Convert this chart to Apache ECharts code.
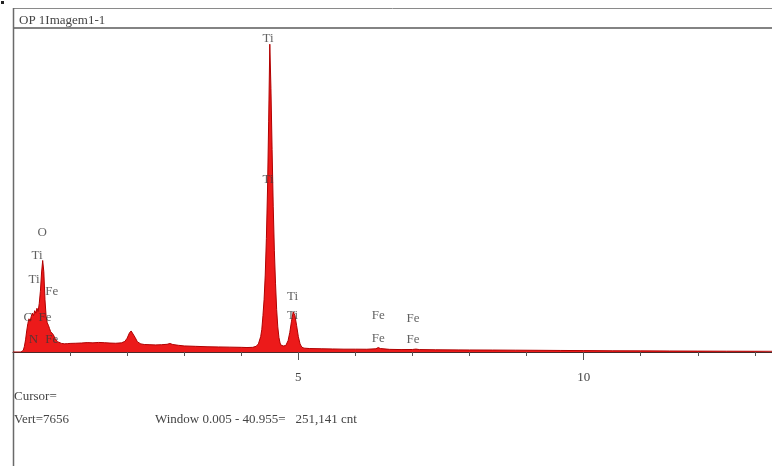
<!DOCTYPE html>
<html>
<head>
<meta charset="utf-8">
<script src="https://cdn.jsdelivr.net/npm/echarts@6/dist/echarts.min.js"></script>
<style>
  html, body { margin: 0; padding: 0; background: #ffffff; }
  #chart { width: 772px; height: 466px; }
</style>
</head>
<body>
<div id="chart"></div>
<script>
// EDS spectrum: energy (keV) and counts per channel
const energyKeV = [
  0.00, 0.14, 0.18, 0.20, 0.22, 0.24, 0.26, 0.28, 0.30, 0.32, 0.34, 0.36, 0.38, 0.40, 0.42, 0.44,
  0.46, 0.48, 0.50, 0.52, 0.54, 0.56, 0.58, 0.60, 0.62, 0.64, 0.66, 0.68, 0.70, 0.72, 0.74, 0.76,
  0.78, 0.80, 0.85, 0.90, 0.95, 1.00, 1.10, 1.20, 1.30, 1.40, 1.50, 1.60, 1.70, 1.80, 1.90, 1.96,
  2.00, 2.04, 2.07, 2.10, 2.14, 2.18, 2.24, 2.30, 2.40, 2.50, 2.60, 2.70, 2.75, 2.80, 2.90, 3.00,
  3.20, 3.40, 3.60, 3.80, 4.00, 4.10, 4.20, 4.26, 4.30, 4.34, 4.36, 4.38, 4.40, 4.42, 4.44, 4.46,
  4.48, 4.50, 4.52, 4.54, 4.56, 4.58, 4.60, 4.62, 4.64, 4.66, 4.68, 4.70, 4.74, 4.78, 4.82, 4.85,
  4.88, 4.91, 4.94, 4.97, 5.00, 5.03, 5.06, 5.10, 5.20, 5.40, 5.60, 5.80, 6.00, 6.20, 6.36, 6.40,
  6.44, 6.60, 6.80, 7.00, 7.06, 7.12, 7.40, 7.80, 8.00, 8.40, 8.80, 9.20, 9.60, 10.00, 10.50, 11.00,
  11.50, 12.00, 12.50, 13.00, 13.30
];
const counts = [
  0, 0, 40, 140, 300, 520, 700, 820, 760, 880, 960, 900, 1020, 960, 1080, 1000,
  1200, 1500, 1950, 2260, 1980, 1300, 880, 720, 660, 580, 500, 460, 440, 390, 330, 285,
  255, 235, 212, 202, 206, 212, 216, 222, 232, 226, 236, 230, 221, 216, 226, 262,
  340, 470, 520, 480, 360, 250, 200, 185, 180, 175, 180, 190, 210, 185, 165, 150,
  140, 130, 125, 120, 115, 110, 115, 140, 200, 380, 560, 900, 1300, 1900, 2800, 4000,
  5700, 7600, 6500, 5000, 3600, 2500, 1700, 1050, 620, 360, 220, 165, 150, 160, 280, 480,
  760, 990, 900, 650, 380, 200, 120, 95, 85, 80, 75, 70, 70, 68, 80, 110,
  85, 65, 60, 62, 72, 60, 55, 52, 50, 48, 45, 42, 38, 35, 30, 28,
  25, 22, 20, 18, 17
];

// Element line markers: symbol, energy (keV), label height (counts)
const markerNames  = ['Ti', 'Ti', 'O', 'Ti', 'Ti', 'Fe', 'C', 'Fe', 'N', 'Fe', 'Ti', 'Ti', 'Fe', 'Fe', 'Fe', 'Fe'];
const markerEnergy = [4.47, 4.47, 0.51, 0.42, 0.37, 0.68, 0.26, 0.56, 0.36, 0.68, 4.90, 4.90, 6.40, 6.40, 7.01, 7.01];
const markerHeight = [7750, 4250, 2940, 2370, 1800, 1480, 840, 840, 300, 300, 1380, 890, 890, 320, 830, 300];

// Axis tick values
const majorTicks = [5, 10];
const axisMax = 13.3;
const countMax = 8000;

const headerText = 'OP 1Imagem1-1';
const cursorText = 'Cursor=';
const vertText = 'Vert=7656';
const windowText = 'Window 0.005 - 40.955=   251,141 cnt';

const spectrum = energyKeV.map((e, i) => [e, counts[i]]);
const markers = markerNames.map((n, i) => ({ name: n, value: [markerEnergy[i], markerHeight[i]] }));

const serif = '"Liberation Serif", "DejaVu Serif", serif';
const chart = echarts.init(document.getElementById('chart'), null, { renderer: 'canvas' });

chart.setOption({
  animation: false,
  backgroundColor: '#ffffff',
  title: {
    text: headerText,
    left: 14, top: 9,
    textStyle: { fontFamily: serif, fontSize: 13, fontWeight: 'normal', color: '#444' }
  },
  grid: { left: 13, right: 0, top: 28, bottom: 114 },
  xAxis: [
    {
      type: 'value', min: 0, max: axisMax, interval: 1,
      axisLine: { show: true, lineStyle: { color: '#4a2a2a', width: 1.2 } },
      axisTick: { show: true, length: 4, lineStyle: { color: '#555' } },
      axisLabel: { show: false },
      splitLine: { show: false }
    },
    {
      type: 'value', min: 0, max: axisMax, interval: 5, position: 'bottom',
      axisLine: { show: false },
      axisTick: { show: true, length: 8, lineStyle: { color: '#555' } },
      axisLabel: {
        show: true, margin: 19, showMaxLabel: false,
        fontFamily: serif, fontSize: 13, color: '#444',
        formatter: v => (majorTicks.indexOf(v) >= 0 ? String(v) : '')
      },
      splitLine: { show: false }
    }
  ],
  yAxis: {
    type: 'value', min: 0, max: countMax,
    show: false
  },
  series: [
    {
      type: 'line',
      data: spectrum,
      showSymbol: false,
      symbol: 'none',
      z: 2,
      lineStyle: { color: '#b00000', width: 1 },
      areaStyle: { color: '#ec1a1a', opacity: 1 }
    },
    {
      type: 'scatter',
      data: markers,
      symbolSize: 0,
      z: 5,
      silent: true,
      label: {
        show: true, position: 'inside',
        formatter: p => p.name,
        fontFamily: serif, fontSize: 13, color: '#3a3a3a'
      }
    }
  ],
  graphic: [
    { type: 'rect', shape: { x: 1, y: 1, width: 3, height: 3 }, style: { fill: '#222' } },
    { type: 'line', shape: { x1: 13, y1: 8.5, x2: 772, y2: 8.5 }, style: { stroke: '#8a8a8a', lineWidth: 1 } },
    { type: 'line', shape: { x1: 13, y1: 28, x2: 772, y2: 28 }, style: { stroke: '#5a5a5a', lineWidth: 1.5 } },
    { type: 'line', shape: { x1: 13.5, y1: 8, x2: 13.5, y2: 466 }, style: { stroke: '#6a6a6a', lineWidth: 1.5 } },
    { type: 'text', left: 14, top: 390, style: { text: cursorText, font: '13px ' + serif, fill: '#444' } },
    { type: 'text', left: 14, top: 413, style: { text: vertText, font: '13px ' + serif, fill: '#444' } },
    { type: 'text', left: 155, top: 413, style: { text: windowText, font: '13px ' + serif, fill: '#444' } }
  ]
});
</script>
</body>
</html>
